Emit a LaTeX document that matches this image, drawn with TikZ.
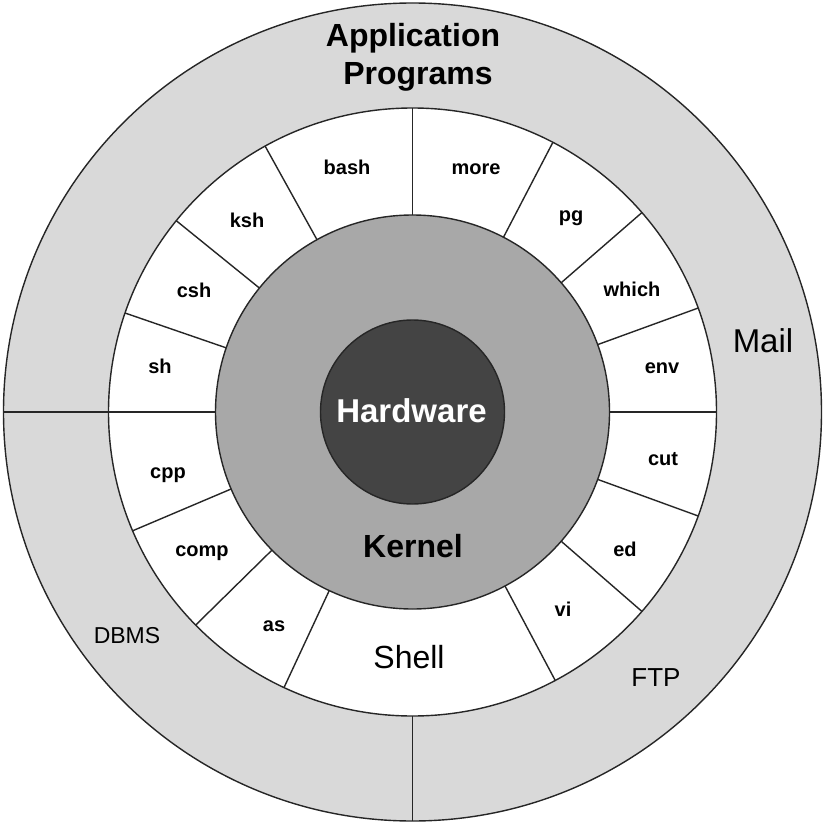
\documentclass[tikz,border=0pt]{standalone}
\usepackage{fontspec}
\setmainfont{Liberation Sans}
\definecolor{ringgray}{RGB}{217,217,217}
\definecolor{kerngray}{RGB}{168,168,168}
\definecolor{hwgray}{RGB}{68,68,68}
\tikzset{
  ringline/.style={draw=black!85, line width=1.4pt},
  divider/.style={draw=black!85, line width=1.4pt},
  cmd/.style={font=\bfseries\fontsize{20}{24}\selectfont, inner sep=0pt, anchor=base},
  biglbl/.style={font=\bfseries\fontsize{32}{38}\selectfont, inner sep=0pt, anchor=base},
  applbl/.style={font=\fontsize{#1}{#1}\selectfont, inner sep=0pt, anchor=base},
}
\begin{document}
\begin{tikzpicture}[x=1pt,y=-1pt]
\useasboundingbox (0,0) rectangle (826,826);
\coordinate (c) at (412.5,412);
% rings
\fill[ringgray, ringline] (c) circle[radius=409pt];
\fill[white, ringline] (c) circle[radius=304pt];
\fill[kerngray, ringline] (c) circle[radius=197pt];
\fill[hwgray, ringline] (c) circle[radius=92pt];
% dividers in the shell ring
\foreach \a in {90,119,141,161,180,203,224.5,245,298,319,340,0,20,41,62.5} {
  \draw[divider, shift={(c)}] (-\a:197) -- (-\a:304);
}
% dividers in the application ring
\draw[divider, shift={(c)}] (-180:304) -- (-180:409);
\draw[divider, shift={(c)}] (-270:304) -- (-270:409);
% shell commands
\node[cmd] (bash) at (347,175) {bash};
\node[cmd] (more) at (476,175) {more};
\node[cmd] (ksh) at (247,228) {ksh};
\node[cmd] (pg) at (571,222) {pg};
\node[cmd] (csh) at (194,297) {csh};
\node[cmd] (which) at (632,296) {which};
\node[cmd] (sh) at (160,373) {sh};
\node[cmd] (env) at (662,373) {env};
\node[cmd] (cpp) at (168,478) {cpp};
\node[cmd] (cut) at (663,465) {cut};
\node[cmd] (comp) at (202,556) {comp};
\node[cmd] (ed) at (625,556) {ed};
\node[cmd] (as) at (274,631) {as};
\node[cmd] (vi) at (563,616) {vi};
\node[applbl=32] (shell) at (409,668) {Shell};
% core labels
\node[biglbl, text=white, font=\bfseries\fontsize{33}{38}\selectfont] (hw) at (411.5,422) {Hardware};
\node[biglbl] (kernel) at (413,557) {Kernel};
% application programs
\node[biglbl] (app1) at (413,47) {Application};
\node[biglbl] (app2) at (418,85) {Programs};
\node[applbl=33] (mail) at (763,352) {Mail};
\node[applbl=23] (dbms) at (127,643) {DBMS};
\node[applbl=26] (ftp) at (656,686) {FTP};
\end{tikzpicture}
\end{document}
